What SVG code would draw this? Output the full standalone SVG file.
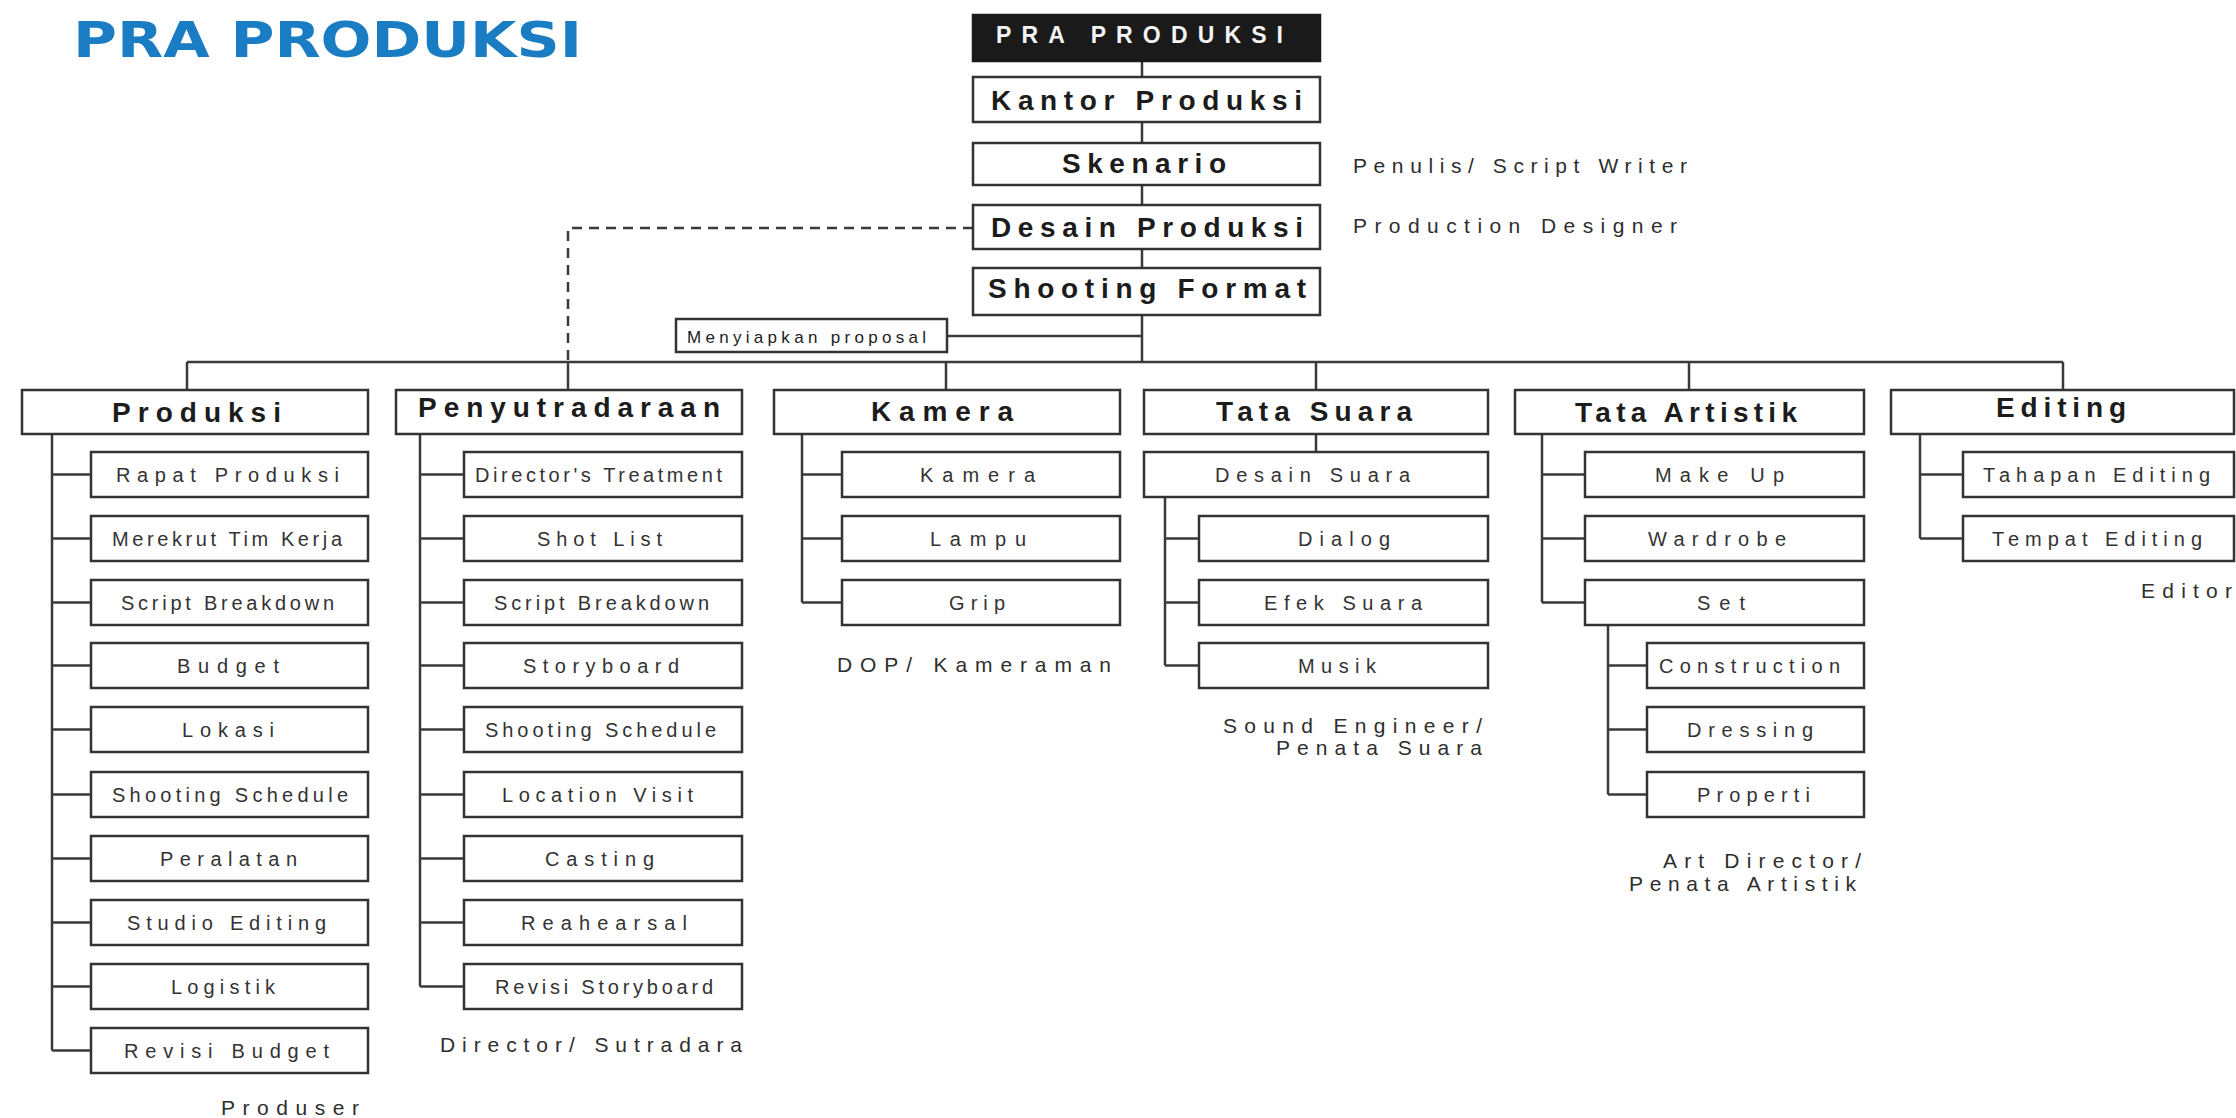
<svg xmlns="http://www.w3.org/2000/svg" width="2236" height="1118" viewBox="0 0 2236 1118">
<style>
.bx{fill:#fff;stroke:#333;stroke-width:2.5}
.bk{fill:#1a1a1a;stroke:#1a1a1a;stroke-width:2.5}
.h0{font-family:"Liberation Sans",Arial,sans-serif;font-weight:bold;font-size:28px;fill:#1c1c1c}
.hw{font-family:"Liberation Sans",Arial,sans-serif;font-weight:bold;font-size:23px;fill:#f4f4f4}
.t{font-family:"Liberation Sans",Arial,sans-serif;font-size:20px;fill:#333}
.lb{font-family:"Liberation Sans",Arial,sans-serif;font-size:21px;fill:#2e2e2e}
.sm{font-family:"Liberation Sans",Arial,sans-serif;font-size:17px;fill:#222}
.ttl{font-family:"DejaVu Sans",Verdana,sans-serif;font-weight:bold;font-size:50px;fill:#1a7dc4}
.c{stroke:#3a3a3a;stroke-width:2.5;fill:none}
.d{stroke:#3a3a3a;stroke-width:2.5;fill:none;stroke-dasharray:10 7}
</style>
<rect width="2236" height="1118" fill="#fff"/>
<text class="ttl" x="73" y="57" textLength="509" lengthAdjust="spacingAndGlyphs">PRA PRODUKSI</text>

<g id="connectors">
<path class="c" d="M1142,61V77M1142,122V143M1142,185V205M1142,249V268M1142,315V362"/>
<path class="c" d="M947,336H1142"/>
<path class="c" d="M187,362H2063"/>
<path class="c" d="M187,362V390M568,362V390M946,362V390M1316,362V390M1689,362V390M2063,362V390"/>
<path class="d" d="M973,228H568V362"/>
<path class="c" d="M52,434V1050.5M52,474.5H91M52,538.5H91M52,602.5H91M52,665.5H91M52,729.5H91M52,794.5H91M52,858.5H91M52,922.5H91M52,986.5H91M52,1050.5H91"/>
<path class="c" d="M420,434V986.5M420,474.5H464M420,538.5H464M420,602.5H464M420,665.5H464M420,729.5H464M420,794.5H464M420,858.5H464M420,922.5H464M420,986.5H464"/>
<path class="c" d="M802,434V602.5M802,474.5H842M802,538.5H842M802,602.5H842"/>
<path class="c" d="M1316,434V452M1165,497V665.5M1165,538.5H1199M1165,602.5H1199M1165,665.5H1199"/>
<path class="c" d="M1542,434V602.5M1542,474.5H1585M1542,538.5H1585M1542,602.5H1585"/>
<path class="c" d="M1608,625V794.5M1608,665.5H1647M1608,729.5H1647M1608,794.5H1647"/>
<path class="c" d="M1920,434V538.5M1920,474.5H1963M1920,538.5H1963"/>
</g>

<g id="pra-produksi"><rect class="bk" x="973" y="15" width="347" height="46"/><text class="hw" x="996" y="43" textLength="287" lengthAdjust="spacing">PRA PRODUKSI</text></g>
<g id="kantor-produksi"><rect class="bx" x="973" y="77" width="347" height="45"/><text class="h0" x="991" y="110" textLength="311" lengthAdjust="spacing">Kantor Produksi</text></g>
<g id="skenario"><rect class="bx" x="973" y="143" width="347" height="42"/><text class="h0" x="1062" y="173" textLength="164" lengthAdjust="spacing">Skenario</text></g>
<g id="desain-produksi"><rect class="bx" x="973" y="205" width="347" height="44"/><text class="h0" x="991" y="237" textLength="312" lengthAdjust="spacing">Desain Produksi</text></g>
<g id="shooting-format"><rect class="bx" x="973" y="268" width="347" height="47"/><text class="h0" x="988" y="298" textLength="318" lengthAdjust="spacing">Shooting Format</text></g>
<g id="menyiapkan-proposal"><rect class="bx" x="676" y="319" width="271" height="33"/><text class="sm" x="687" y="343" textLength="239" lengthAdjust="spacing">Menyiapkan proposal</text></g>

<g id="label-penulis"><text class="lb" x="1353" y="173" textLength="334" lengthAdjust="spacing">Penulis/ Script Writer</text></g>
<g id="label-production-designer"><text class="lb" x="1353" y="233" textLength="324" lengthAdjust="spacing">Production Designer</text></g>

<g id="produksi"><rect class="bx" x="22" y="390" width="346" height="44"/><text class="h0" x="112" y="422" textLength="169" lengthAdjust="spacing">Produksi</text></g>
<g id="penyutradaraan"><rect class="bx" x="396" y="390" width="346" height="44"/><text class="h0" x="418" y="417" textLength="302" lengthAdjust="spacing">Penyutradaraan</text></g>
<g id="kamera"><rect class="bx" x="774" y="390" width="346" height="44"/><text class="h0" x="871" y="421" textLength="142" lengthAdjust="spacing">Kamera</text></g>
<g id="tata-suara"><rect class="bx" x="1144" y="390" width="344" height="44"/><text class="h0" x="1216" y="421" textLength="196" lengthAdjust="spacing">Tata Suara</text></g>
<g id="tata-artistik"><rect class="bx" x="1515" y="390" width="349" height="44"/><text class="h0" x="1575" y="422" textLength="222" lengthAdjust="spacing">Tata Artistik</text></g>
<g id="editing"><rect class="bx" x="1891" y="390" width="343" height="44"/><text class="h0" x="1996" y="417" textLength="130" lengthAdjust="spacing">Editing</text></g>

<g id="rapat-produksi"><rect class="bx" x="91" y="452" width="277" height="45"/><text class="t" x="116" y="482" textLength="223" lengthAdjust="spacing">Rapat Produksi</text></g>
<g id="merekrut-tim-kerja"><rect class="bx" x="91" y="516" width="277" height="45"/><text class="t" x="112" y="546" textLength="230" lengthAdjust="spacing">Merekrut Tim Kerja</text></g>
<g id="script-breakdown-1"><rect class="bx" x="91" y="580" width="277" height="45"/><text class="t" x="121" y="610" textLength="213" lengthAdjust="spacing">Script Breakdown</text></g>
<g id="budget"><rect class="bx" x="91" y="643" width="277" height="45"/><text class="t" x="177" y="673" textLength="102" lengthAdjust="spacing">Budget</text></g>
<g id="lokasi"><rect class="bx" x="91" y="707" width="277" height="45"/><text class="t" x="182" y="737" textLength="92" lengthAdjust="spacing">Lokasi</text></g>
<g id="shooting-schedule-1"><rect class="bx" x="91" y="772" width="277" height="45"/><text class="t" x="112" y="802" textLength="236" lengthAdjust="spacing">Shooting Schedule</text></g>
<g id="peralatan"><rect class="bx" x="91" y="836" width="277" height="45"/><text class="t" x="160" y="866" textLength="137" lengthAdjust="spacing">Peralatan</text></g>
<g id="studio-editing"><rect class="bx" x="91" y="900" width="277" height="45"/><text class="t" x="127" y="930" textLength="199" lengthAdjust="spacing">Studio Editing</text></g>
<g id="logistik"><rect class="bx" x="91" y="964" width="277" height="45"/><text class="t" x="171" y="994" textLength="104" lengthAdjust="spacing">Logistik</text></g>
<g id="revisi-budget"><rect class="bx" x="91" y="1028" width="277" height="45"/><text class="t" x="124" y="1058" textLength="205" lengthAdjust="spacing">Revisi Budget</text></g>

<g id="directors-treatment"><rect class="bx" x="464" y="452" width="278" height="45"/><text class="t" x="475" y="482" textLength="247" lengthAdjust="spacing">Director's Treatment</text></g>
<g id="shot-list"><rect class="bx" x="464" y="516" width="278" height="45"/><text class="t" x="537" y="546" textLength="125" lengthAdjust="spacing">Shot List</text></g>
<g id="script-breakdown-2"><rect class="bx" x="464" y="580" width="278" height="45"/><text class="t" x="494" y="610" textLength="215" lengthAdjust="spacing">Script Breakdown</text></g>
<g id="storyboard"><rect class="bx" x="464" y="643" width="278" height="45"/><text class="t" x="523" y="673" textLength="156" lengthAdjust="spacing">Storyboard</text></g>
<g id="shooting-schedule-2"><rect class="bx" x="464" y="707" width="278" height="45"/><text class="t" x="485" y="737" textLength="231" lengthAdjust="spacing">Shooting Schedule</text></g>
<g id="location-visit"><rect class="bx" x="464" y="772" width="278" height="45"/><text class="t" x="502" y="802" textLength="191" lengthAdjust="spacing">Location Visit</text></g>
<g id="casting"><rect class="bx" x="464" y="836" width="278" height="45"/><text class="t" x="545" y="866" textLength="109" lengthAdjust="spacing">Casting</text></g>
<g id="reahearsal"><rect class="bx" x="464" y="900" width="278" height="45"/><text class="t" x="521" y="930" textLength="166" lengthAdjust="spacing">Reahearsal</text></g>
<g id="revisi-storyboard"><rect class="bx" x="464" y="964" width="278" height="45"/><text class="t" x="495" y="994" textLength="218" lengthAdjust="spacing">Revisi Storyboard</text></g>

<g id="kamera-sub"><rect class="bx" x="842" y="452" width="278" height="45"/><text class="t" x="920" y="482" textLength="115" lengthAdjust="spacing">Kamera</text></g>
<g id="lampu"><rect class="bx" x="842" y="516" width="278" height="45"/><text class="t" x="930" y="546" textLength="96" lengthAdjust="spacing">Lampu</text></g>
<g id="grip"><rect class="bx" x="842" y="580" width="278" height="45"/><text class="t" x="949" y="610" textLength="56" lengthAdjust="spacing">Grip</text></g>

<g id="desain-suara"><rect class="bx" x="1144" y="452" width="344" height="45"/><text class="t" x="1215" y="482" textLength="195" lengthAdjust="spacing">Desain Suara</text></g>
<g id="dialog"><rect class="bx" x="1199" y="516" width="289" height="45"/><text class="t" x="1298" y="546" textLength="92" lengthAdjust="spacing">Dialog</text></g>
<g id="efek-suara"><rect class="bx" x="1199" y="580" width="289" height="45"/><text class="t" x="1264" y="610" textLength="158" lengthAdjust="spacing">Efek Suara</text></g>
<g id="musik"><rect class="bx" x="1199" y="643" width="289" height="45"/><text class="t" x="1298" y="673" textLength="78" lengthAdjust="spacing">Musik</text></g>

<g id="make-up"><rect class="bx" x="1585" y="452" width="279" height="45"/><text class="t" x="1655" y="482" textLength="129" lengthAdjust="spacing">Make Up</text></g>
<g id="wardrobe"><rect class="bx" x="1585" y="516" width="279" height="45"/><text class="t" x="1648" y="546" textLength="138" lengthAdjust="spacing">Wardrobe</text></g>
<g id="set"><rect class="bx" x="1585" y="580" width="279" height="45"/><text class="t" x="1697" y="610" textLength="48" lengthAdjust="spacing">Set</text></g>
<g id="construction"><rect class="bx" x="1647" y="643" width="217" height="45"/><text class="t" x="1659" y="673" textLength="181" lengthAdjust="spacing">Construction</text></g>
<g id="dressing"><rect class="bx" x="1647" y="707" width="217" height="45"/><text class="t" x="1687" y="737" textLength="126" lengthAdjust="spacing">Dressing</text></g>
<g id="properti"><rect class="bx" x="1647" y="772" width="217" height="45"/><text class="t" x="1697" y="802" textLength="113" lengthAdjust="spacing">Properti</text></g>

<g id="tahapan-editing"><rect class="bx" x="1963" y="452" width="271" height="45"/><text class="t" x="1983" y="482" textLength="227" lengthAdjust="spacing">Tahapan Editing</text></g>
<g id="tempat-editing"><rect class="bx" x="1963" y="516" width="271" height="45"/><text class="t" x="1992" y="546" textLength="210" lengthAdjust="spacing">Tempat Editing</text></g>

<g id="label-produser"><text class="lb" x="221" y="1115" textLength="138" lengthAdjust="spacing">Produser</text></g>
<g id="label-director"><text class="lb" x="440" y="1052" textLength="302" lengthAdjust="spacing">Director/ Sutradara</text></g>
<g id="label-dop"><text class="lb" x="837" y="672" textLength="274" lengthAdjust="spacing">DOP/ Kameraman</text></g>
<g id="label-sound"><text class="lb" x="1223" y="733" textLength="259" lengthAdjust="spacing">Sound Engineer/</text><text class="lb" x="1276" y="755" textLength="206" lengthAdjust="spacing">Penata Suara</text></g>
<g id="label-art"><text class="lb" x="1663" y="868" textLength="198" lengthAdjust="spacing">Art Director/</text><text class="lb" x="1629" y="891" textLength="227" lengthAdjust="spacing">Penata Artistik</text></g>
<g id="label-editor"><text class="lb" x="2141" y="598" textLength="91" lengthAdjust="spacing">Editor</text></g>
</svg>
